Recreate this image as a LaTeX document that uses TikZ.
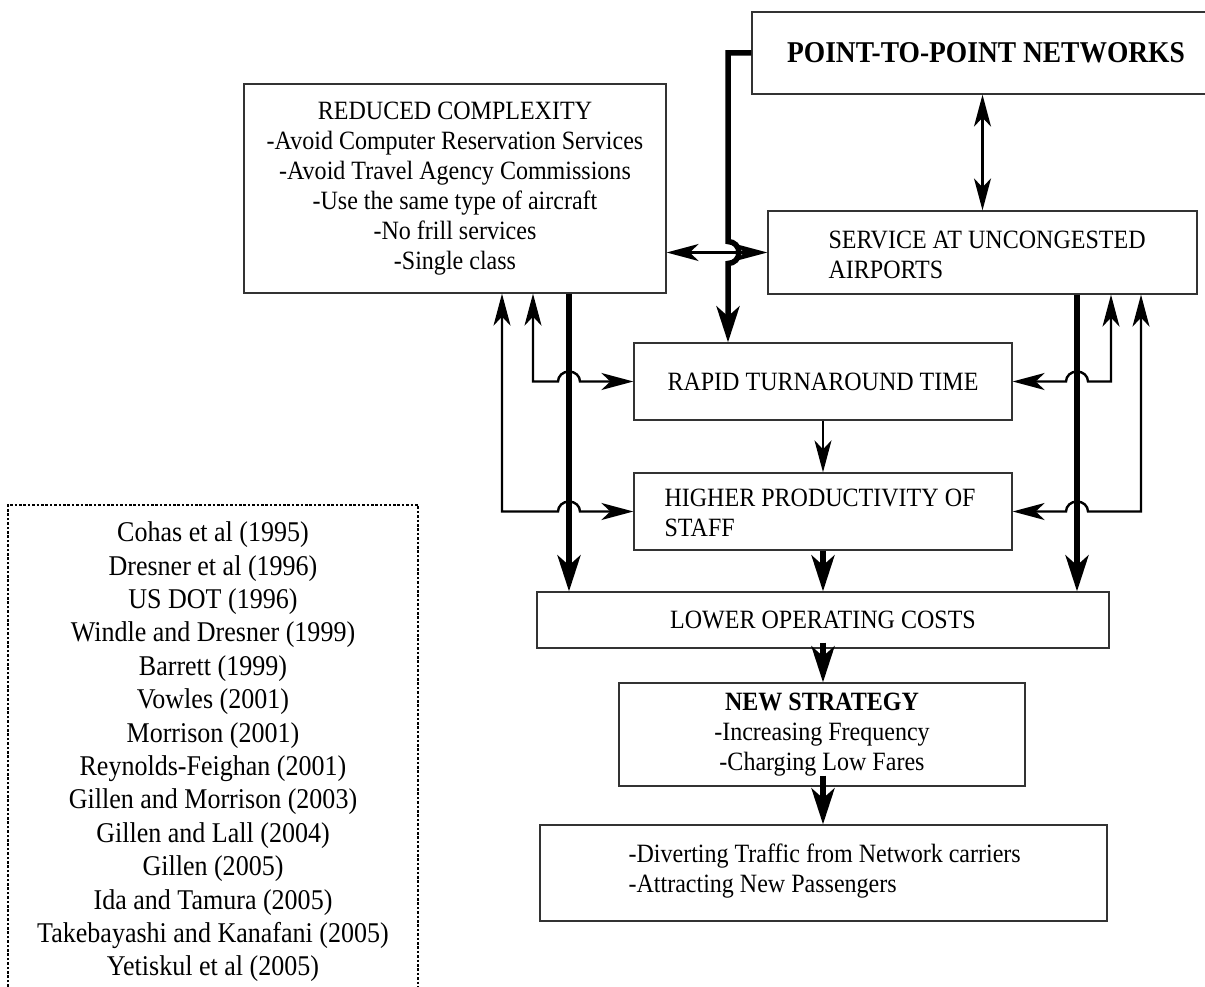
\documentclass[tikz,border=0pt]{standalone}
\usepackage{fontspec}
\setmainfont{Liberation Serif}[FakeStretch=0.91]
\usetikzlibrary{arrows.meta}
\begin{document}
\begin{tikzpicture}[x=1pt,y=-1pt,
  box/.style={draw=black!80, line width=1.3pt, inner sep=0pt, align=center, font=\fontsize{26.4}{30}\selectfont},
  txt/.style={inner sep=0pt, font=\fontsize{26.4}{30}\selectfont},
  thinln/.style={line width=2.4pt, >={Stealth[length=32pt,width=17pt,inset=9pt]}},
  thickln/.style={line width=5.5pt, >={Stealth[length=36pt,width=23pt,inset=10pt]}},
  dotframe/.style={line width=2.6pt, dash pattern=on 2.6pt off 1.8pt}
]
\useasboundingbox (0,0) rectangle (1205,987);
\clip (0,0) rectangle (1205,987);

% boxes
\node[box, minimum width=468pt, minimum height=82pt, font=\fontsize{30.2}{33}\selectfont\bfseries] (p2p) at (986,53) {POINT-TO-POINT NETWORKS};
\node[box, minimum width=422pt, minimum height=209pt] (red) at (455,188.5)
  {REDUCED COMPLEXITY\\-Avoid Computer Reservation Services\\-Avoid Travel Agency Commissions\\-Use the same type of aircraft\\-No frill services\\-Single class};
\node[box, minimum width=429pt, minimum height=83pt] (svc) at (982.5,252.5) {};
\node[txt, anchor=west, align=left] (svct) at ([xshift=61pt,yshift=-2pt]svc.west) {SERVICE AT UNCONGESTED\\AIRPORTS};
\node[box, minimum width=378pt, minimum height=77pt] (rapid) at (823,381.5) {RAPID TURNAROUND TIME};
\node[box, minimum width=378pt, minimum height=77pt] (high) at (823,511.5) {};
\node[txt, anchor=west, align=left] (hight) at ([xshift=31pt,yshift=-1pt]high.west) {HIGHER PRODUCTIVITY OF\\STAFF};
\node[box, minimum width=572pt, minimum height=56pt] (lower) at (823,620) {LOWER OPERATING COSTS};
\node[box, minimum width=406pt, minimum height=103pt] (new) at (822,734.5) {\textbf{NEW STRATEGY}\\-Increasing Frequency\\-Charging Low Fares};
\node[box, minimum width=567pt, minimum height=96pt] (div) at (823.5,873) {};
\node[txt, anchor=west, align=left] (divt) at ([xshift=89pt,yshift=2pt]div.west) {-Diverting Traffic from Network carriers\\-Attracting New Passengers};

% citations
\draw[dotframe] (8,1000) -- (8,505) -- (418,505) -- (418,1000);
\node[inner sep=0pt, align=center, font=\fontsize{28.6}{33.4}\selectfont] (refs) at (213,752)
  {Cohas et al (1995)\\Dresner et al (1996)\\US DOT (1996)\\Windle and Dresner (1999)\\Barrett (1999)\\Vowles (2001)\\Morrison (2001)\\Reynolds-Feighan (2001)\\Gillen and Morrison (2003)\\Gillen and Lall (2004)\\Gillen (2005)\\Ida and Tamura (2005)\\Takebayashi and Kanafani (2005)\\Yetiskul et al (2005)};

% helper x positions
\coordinate (xP) at (728,0);
\coordinate (xL2) at (502,0);
\coordinate (xL1) at (533,0);
\coordinate (xT) at (569,0);
\coordinate (xTR) at (1077,0);
\coordinate (xR1) at (1111,0);
\coordinate (xR2) at (1141,0);

% thick connectors
\draw[thickln,->] (p2p.west) -- (p2p.west -| xP) -- ([yshift=11pt]svc.west -| xP)
  arc[start angle=90,end angle=-90,radius=11pt] -- (rapid.north -| xP);
\draw[thickln,->] (xT |- red.south) -- (xT |- lower.north);
\draw[thickln,->] (xTR |- svc.south) -- (xTR |- lower.north);
\draw[thickln,->] (high.south) -- (high.south |- lower.north);
\draw[thickln,->] ([yshift=6pt]lower.south) -- (lower.south |- new.north);
\draw[thickln,->] ([yshift=11pt]new.south -| lower.south) -- (lower.south |- div.north);

% thin connectors
\draw[thinln,<->] (svc.north |- p2p.south) -- (svc.north);
\draw[thinln,<->] (svc.west -| red.east) -- (svc.west);
\draw[thinln,->] (rapid.south) -- (high.north);

\draw[thinln,<->] (xL1 |- red.south) -- (rapid.west -| xL1) -- ([xshift=-11pt]rapid.west -| xT)
  arc[start angle=180,end angle=0,x radius=11pt,y radius=10pt] -- (rapid.west);
\draw[thinln,<->] (xL2 |- red.south) -- (high.west -| xL2) -- ([xshift=-11pt]high.west -| xT)
  arc[start angle=180,end angle=0,x radius=11pt,y radius=10pt] -- (high.west);
\draw[thinln,<->] (xR1 |- svc.south) -- (rapid.east -| xR1) -- ([xshift=11pt]rapid.east -| xTR)
  arc[start angle=0,end angle=180,x radius=11pt,y radius=10pt] -- (rapid.east);
\draw[thinln,<->] (xR2 |- svc.south) -- (high.east -| xR2) -- ([xshift=11pt]high.east -| xTR)
  arc[start angle=0,end angle=180,x radius=11pt,y radius=10pt] -- (high.east);
\end{tikzpicture}
\end{document}
